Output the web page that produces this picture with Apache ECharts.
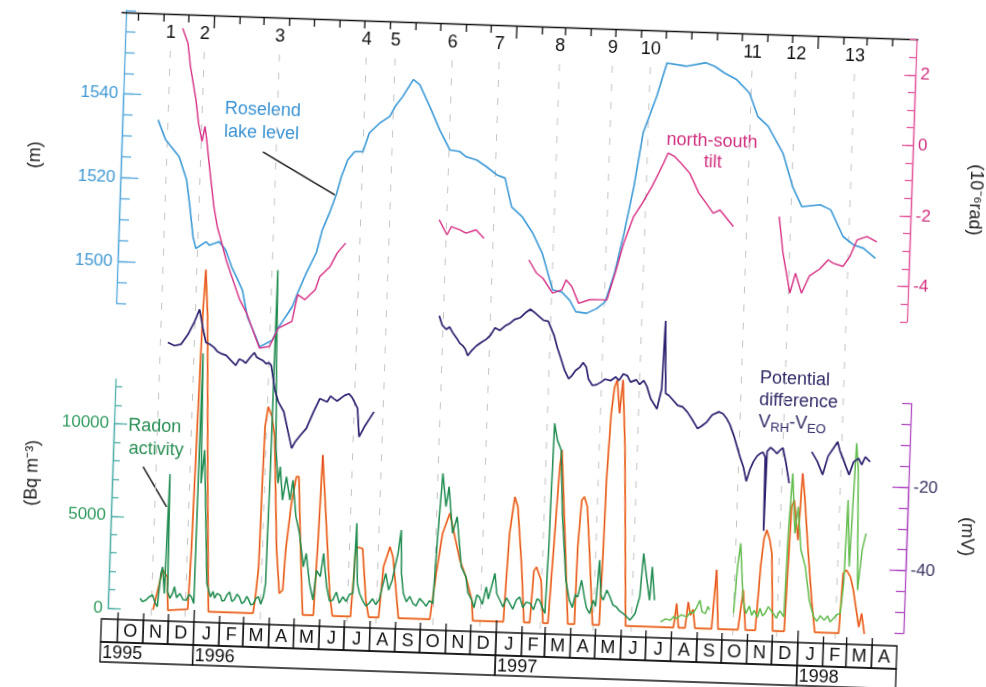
<!DOCTYPE html>
<html>
<head>
<meta charset="utf-8">
<title>Roselend lake level, tilt, potential difference and radon activity</title>
<script src="https://cdn.jsdelivr.net/npm/echarts@6/dist/echarts.min.js"></script>
<style>
html, body { margin: 0; padding: 0; background: #fff; overflow: hidden; }
/* the printed figure is slightly turned clockwise */
#page { width: 986px; height: 687px; transform: rotate(1.95deg); transform-origin: 493px 343.5px; }
#chart { width: 986px; height: 687px; }
</style>
</head>
<body>
<div id="page"><div id="chart"></div></div>
<script>
var FONT = '"Liberation Sans", Arial, Helvetica, sans-serif';
var X_MIN = '1995-09-11', X_MAX = '1998-05-01';

// Roselend lake level (m)
var lakeLevel = [
	['1995-10-29',1534.1],['1995-11-08',1529.4],['1995-11-25',1525.5],['1995-12-05',1520.0],['1995-12-10',1513.6],
	['1995-12-15',1506.5],['1995-12-19',1503.7],['1995-12-31',1505.4],['1996-01-04',1504.6],['1996-01-16',1505.5],
	['1996-01-24',1503.6],['1996-02-01',1499.6],['1996-02-07',1497.3],['1996-02-15',1494.1],['1996-02-22',1487.8],
	['1996-03-04',1483.1],['1996-03-09',1480.7],['1996-03-24',1482.4],['1996-03-31',1485.5],['1996-04-16',1490.6],
	['1996-04-22',1494.0],['1996-05-01',1498.5],['1996-05-13',1503.8],['1996-05-19',1509.1],['1996-05-27',1513.2],
	['1996-06-04',1518.0],['1996-06-09',1522.1],['1996-06-16',1526.1],['1996-06-24',1528.1],['1996-07-04',1528.2],
	['1996-07-11',1532.7],['1996-07-23',1535.1],['1996-08-04',1536.8],['1996-08-10',1539.2],['1996-08-19',1541.7],
	['1996-08-31',1545.8],['1996-09-08',1544.6],['1996-09-21',1539.5],['1996-10-04',1534.0],['1996-10-17',1529.3],
	['1996-10-29',1529.0],['1996-11-06',1527.8],['1996-11-19',1527.1],['1996-12-01',1525.6],['1996-12-14',1523.7],
	['1996-12-24',1523.0],['1997-01-02',1516.2],['1997-01-15',1514.0],['1997-01-29',1510.0],['1997-02-10',1505.4],
	['1997-02-24',1496.7],['1997-03-07',1496.3],['1997-03-17',1494.4],['1997-03-25',1491.7],['1997-04-07',1491.4],
	['1997-04-19',1492.6],['1997-04-29',1494.3],['1997-05-09',1501.1],['1997-05-19',1510.8],['1997-05-29',1522.0],
	['1997-06-07',1534.9],['1997-06-22',1543.8],['1997-07-03',1551.8],['1997-07-27',1551.2],['1997-08-19',1552.2],
	['1997-08-30',1551.4],['1997-09-11',1549.9],['1997-09-26',1548.4],['1997-10-12',1545.3],['1997-10-23',1539.8],
	['1997-11-05',1537.5],['1997-11-24',1531.2],['1997-12-07',1523.3],['1997-12-19',1518.6],['1998-01-10',1519.2],
	['1998-01-23',1518.1],['1998-02-08',1511.8],['1998-02-21',1509.9],['1998-03-05',1509.2],['1998-03-20',1506.9]
];

// north-south tilt (10^-6 rad), four records
var tiltA = [
	['1995-11-24',2.62],['1995-12-01',2.20],['1995-12-05',1.54],['1995-12-13',0.60],['1995-12-17',-0.05],
	['1995-12-22',-0.57],['1995-12-25',-0.14],['1995-12-27',-0.42],['1996-01-01',-1.27],['1996-01-08',-2.40],
	['1996-01-13',-2.97],['1996-01-18',-3.34],['1996-01-25',-3.90],['1996-02-03',-4.46],['1996-02-12',-5.01],
	['1996-02-21',-5.39],['1996-03-09',-6.37],['1996-03-21',-6.31],['1996-03-31',-5.78],['1996-04-16',-5.58],
	['1996-04-22',-4.82],['1996-05-01',-4.95],['1996-05-13',-4.66],['1996-05-18',-4.28],['1996-05-30',-3.99],
	['1996-06-07',-3.60],['1996-06-17',-3.31]
];
var tiltB = [
	['1996-10-07',-2.56],['1996-10-17',-2.98],['1996-10-22',-2.74],['1996-11-01',-2.82],['1996-11-09',-2.91],
	['1996-11-21',-2.81],['1996-12-01',-3.04]
];
var tiltC = [
	['1997-01-25',-3.61],['1997-02-04',-3.98],['1997-02-12',-4.12],['1997-02-24',-4.53],['1997-03-07',-4.43],
	['1997-03-12',-4.14],['1997-03-19',-4.32],['1997-03-28',-4.79],['1997-04-10',-4.68],['1997-04-22',-4.67],
	['1997-05-01',-4.67],['1997-05-10',-3.90],['1997-05-19',-3.05],['1997-05-30',-2.28],['1997-06-09',-1.89],
	['1997-06-20',-1.41],['1997-07-03',-0.74],['1997-07-08',-0.45],['1997-07-16',-0.54],['1997-07-24',-0.72],
	['1997-08-04',-1.00],['1997-08-16',-1.56],['1997-08-25',-1.83],['1997-09-03',-2.11],['1997-09-11',-2.01],
	['1997-09-28',-2.47]
];
var tiltD = [
	['1997-11-22',-2.14],['1997-11-28',-3.17],['1997-12-08',-4.30],['1997-12-14',-3.73],['1997-12-22',-4.29],
	['1997-12-31',-3.79],['1998-01-12',-3.59],['1998-01-22',-3.32],['1998-01-28',-3.41],['1998-02-09',-3.49],
	['1998-02-17',-3.21],['1998-02-25',-2.73],['1998-03-09',-2.62],['1998-03-21',-2.76]
];

// potential difference V_RH - V_EO (mV), three records
var potA = [
	['1995-11-19',8.6],['1995-11-27',7.9],['1995-12-05',8.3],['1995-12-13',10.7],['1995-12-20',13.6],
	['1995-12-26',16.8],['1995-12-31',12.1],['1996-01-04',8.9],['1996-01-09',8.5],['1996-01-14',7.8],
	['1996-01-18',6.9],['1996-01-24',6.3],['1996-01-29',6.0],['1996-02-04',4.8],['1996-02-10',3.7],
	['1996-02-14',5.2],['1996-02-18',4.9],['1996-02-22',4.3],['1996-02-27',5.7],['1996-03-03',6.9],
	['1996-03-06',5.8],['1996-03-10',5.4],['1996-03-14',5.0],['1996-03-18',4.3],['1996-03-21',4.6],
	['1996-03-24',4.0],['1996-03-29',-1.6],['1996-04-03',-4.7],['1996-04-10',-7.0],['1996-04-17',-12.6],
	['1996-04-21',-15.7],['1996-04-25',-14.1],['1996-05-01',-12.5],['1996-05-08',-10.8],['1996-05-16',-6.8],
	['1996-05-23',-3.6],['1996-06-01',-4.3],['1996-06-05',-2.9],['1996-06-09',-3.5],['1996-06-13',-4.0],
	['1996-06-17',-3.4],['1996-06-22',-2.6],['1996-06-27',-2.2],['1996-07-01',-3.0],['1996-07-04',-4.1],
	['1996-07-08',-5.6],['1996-07-11',-12.4],['1996-07-17',-10.0],['1996-07-23',-8.0],['1996-07-28',-6.3]
];
var potB = [
	['1996-10-11',17.2],['1996-10-15',15.0],['1996-10-20',14.0],['1996-10-24',14.6],['1996-10-28',13.3],
	['1996-11-03',11.7],['1996-11-06',10.8],['1996-11-10',10.2],['1996-11-13',9.4],['1996-11-16',7.9],
	['1996-11-20',9.0],['1996-11-26',10.3],['1996-12-02',11.2],['1996-12-08',12.0],['1996-12-13',13.0],
	['1996-12-18',14.8],['1996-12-24',14.2],['1996-12-30',15.3],['1997-01-05',16.0],['1997-01-10',16.9],
	['1997-01-17',17.4],['1997-01-23',18.6],['1997-01-29',19.5],['1997-02-03',18.8],['1997-02-08',18.0],
	['1997-02-14',17.0],['1997-02-20',16.8],['1997-02-28',13.3],['1997-03-04',10.6],['1997-03-09',7.9],
	['1997-03-14',5.1],['1997-03-19',3.2],['1997-03-23',4.0],['1997-03-27',5.2],['1997-04-01',6.0],
	['1997-04-05',7.2],['1997-04-09',6.1],['1997-04-12',3.3],['1997-04-17',1.8],['1997-04-22',2.0],
	['1997-04-27',2.6],['1997-05-02',3.4],['1997-05-09',3.1],['1997-05-15',4.0],['1997-05-19',3.2],
	['1997-05-24',4.8],['1997-05-29',4.4],['1997-06-02',2.9],['1997-06-09',3.5],['1997-06-13',2.4],
	['1997-06-18',3.4],['1997-06-22',2.0],['1997-06-27',-0.9],['1997-07-05',-3.3],['1997-07-10',1.5],
	['1997-07-12',17.8],['1997-07-15',0.5],['1997-07-19',0.0],['1997-07-30',-2.3],['1997-08-05',-2.6],
	['1997-08-11',-3.8],['1997-08-17',-5.5],['1997-08-24',-7.7],['1997-08-29',-7.0],['1997-09-04',-6.0],
	['1997-09-10',-4.3],['1997-09-18',-3.5],['1997-09-23',-3.9],['1997-09-28',-5.1],['1997-10-02',-6.5],
	['1997-10-07',-9.0],['1997-10-12',-12.0],['1997-10-16',-14.4],['1997-10-20',-16.5],['1997-10-24',-19.9],
	['1997-10-28',-17.0],['1997-11-01',-15.1],['1997-11-05',-13.8],['1997-11-09',-13.1],['1997-11-12',-12.8],
	['1997-11-15',-14.0],['1997-11-16',-31.6],['1997-11-17',-12.6],['1997-11-21',-11.6],['1997-11-25',-12.2],
	['1997-11-29',-13.0],['1997-12-03',-12.1],['1997-12-06',-11.6],['1997-12-10',-14.9],['1997-12-15',-20.0]
];
var potC = [
	['1998-01-10',-12.3],['1998-01-17',-14.5],['1998-01-24',-17.7],['1998-01-30',-13.2],['1998-02-05',-11.3],
	['1998-02-10',-9.7],['1998-02-13',-11.8],['1998-02-17',-13.6],['1998-02-21',-15.6],['1998-02-25',-17.5],
	['1998-03-02',-14.4],['1998-03-08',-13.5],['1998-03-12',-15.0],['1998-03-16',-13.1],['1998-03-22',-14.2]
];

// radon activity (Bq m^-3): first probe, then the later (light green) records
var radonA = [
	['1995-10-27',590],['1995-10-30',420],['1995-11-03',510],['1995-11-07',700],['1995-11-11',795],
	['1995-11-14',400],['1995-11-17',170],['1995-11-20',1980],['1995-11-22',2340],['1995-11-25',900],
	['1995-11-27',7370],['1995-11-29',1000],['1995-12-02',650],['1995-12-05',920],['1995-12-07',1280],
	['1995-12-10',700],['1995-12-14',930],['1995-12-18',600],['1995-12-22',580],['1995-12-25',900],
	['1995-12-28',770],['1995-12-31',415],['1996-01-01',13960],['1996-01-04',6925],['1996-01-07',8730],
	['1996-01-13',3330],['1996-01-15',1530],['1996-01-20',805],['1996-01-23',1100],['1996-01-25',740],
	['1996-01-28',1000],['1996-02-01',900],['1996-02-03',600],['1996-02-06',650],['1996-02-09',950],
	['1996-02-12',1100],['1996-02-15',600],['1996-02-18',700],['1996-02-21',1000],['1996-02-24',850],
	['1996-02-27',500],['1996-03-01',600],['1996-03-04',900],['1996-03-06',750],['1996-03-09',450],
	['1996-03-12',500],['1996-03-15',800],['1996-03-18',900],['1996-03-21',500],['1996-03-24',900],
	['1996-03-26',1640],['1996-03-27',7000],['1996-03-28',18600],['1996-03-30',14000],['1996-04-02',9000],
	['1996-04-06',7070],['1996-04-08',7970],['1996-04-12',6170],['1996-04-16',7440],['1996-04-21',6180],
	['1996-04-24',7270],['1996-04-29',5290],['1996-05-04',4400],['1996-05-10',2600],['1996-05-13',3330],
	['1996-05-18',1730],['1996-05-23',820],['1996-05-26',2430],['1996-05-31',2110],['1996-06-03',3360],
	['1996-06-08',1560],['1996-06-12',800],['1996-06-16',855],['1996-06-20',1300],['1996-06-24',700],
	['1996-06-28',1050],['1996-07-02',800],['1996-07-06',1200],['1996-07-10',1250],['1996-07-12',5050],
	['1996-07-15',1800],['1996-07-18',1270],['1996-07-22',900],['1996-07-26',600],['1996-07-30',740],
	['1996-08-03',1000],['1996-08-07',700],['1996-08-11',940],['1996-08-14',1600],['1996-08-18',2400],
	['1996-08-22',1500],['1996-08-26',2045],['1996-08-29',2800],['1996-09-01',3500],['1996-09-04',4770],
	['1996-09-06',2400],['1996-09-09',1350],['1996-09-13',900],['1996-09-17',1200],['1996-09-21',820],
	['1996-09-25',700],['1996-09-29',1100],['1996-10-03',925],['1996-10-07',700],['1996-10-11',1000],
	['1996-10-15',860],['1996-10-18',4290],['1996-10-22',7910],['1996-10-27',6110],['1996-10-30',7200],
	['1996-11-05',4690],['1996-11-10',5590],['1996-11-17',2890],['1996-11-23',2360],['1996-11-26',1500],
	['1996-12-01',1110],['1996-12-04',700],['1996-12-07',1400],['1996-12-10',1300],['1996-12-14',900],
	['1996-12-18',1860],['1996-12-21',1200],['1996-12-25',2000],['1996-12-28',2600],['1996-12-31',1500],
	['1997-01-04',1160],['1997-01-08',800],['1997-01-12',1300],['1997-01-16',1000],['1997-01-20',700],
	['1997-01-24',1200],['1997-01-28',1370],['1997-02-01',800],['1997-02-05',1100],['1997-02-10',1040],
	['1997-02-14',700],['1997-02-18',1300],['1997-02-21',1230],['1997-02-25',800],['1997-02-28',525],
	['1997-03-02',4130],['1997-03-03',7750],['1997-03-04',10820],['1997-03-08',9920],['1997-03-13',9390],
	['1997-03-17',5970],['1997-03-24',2350],['1997-03-29',1290],['1997-04-02',900],['1997-04-05',1600],
	['1997-04-08',1480],['1997-04-12',2390],['1997-04-16',1490],['1997-04-19',900],['1997-04-23',605],
	['1997-04-27',1330],['1997-04-30',1000],['1997-05-03',3510],['1997-05-06',1600],['1997-05-09',1350],
	['1997-05-13',1900],['1997-05-17',1540],['1997-05-21',1100],['1997-05-25',1010],['1997-05-29',800],
	['1997-06-03',655],['1997-06-07',500],['1997-06-11',320],['1997-06-14',500],['1997-06-17',690],
	['1997-06-22',1600],['1997-06-25',3950],['1997-06-30',2510],['1997-07-04',1430],['1997-07-06',3240],
	['1997-07-10',1440]
];
var radonB = [
	['1997-07-18',275],['1997-07-24',450],['1997-07-30',385],['1997-08-03',600],['1997-08-06',490],
	['1997-08-12',700],['1997-08-19',600],['1997-08-23',900],['1997-08-26',795],['1997-08-30',1100],
	['1997-09-03',1525],['1997-09-06',900],['1997-09-10',815],['1997-09-13',1200],['1997-09-15',1010]
];
var radonC = [
	['1997-10-14',900],['1997-10-17',3400],['1997-10-20',4680],['1997-10-25',1610],['1997-10-29',890],
	['1997-11-02',1300],['1997-11-05',800],['1997-11-08',1080],['1997-11-12',700],['1997-11-15',1200],
	['1997-11-18',800],['1997-11-21',925],['1997-11-25',1300],['1997-12-01',945],['1997-12-05',700],
	['1997-12-09',1100],['1997-12-14',780],['1997-12-16',5300],['1997-12-19',8550],['1997-12-24',5310],
	['1997-12-27',6760],['1998-01-01',4420],['1998-01-07',3520],['1998-01-13',1730],['1998-01-19',835],
	['1998-01-23',600],['1998-01-27',900],['1998-02-01',670],['1998-02-05',900],['1998-02-08',600],
	['1998-02-12',785],['1998-02-16',1000],['1998-02-20',1065],['1998-02-23',2690],['1998-02-25',7210],
	['1998-03-01',3610],['1998-03-05',10300],['1998-03-08',8850],['1998-03-12',2360],['1998-03-16',4530],
	['1998-03-20',5440]
];

// orange curve drawn on the radon scale
var orangeCurve = [
	['1995-11-12',0],['1995-11-19',1500],['1995-11-22',2200],['1995-11-25',2000],['1995-11-28',1800],
	['1995-11-30',0],['1995-12-24',100],['1995-12-26',3300],['1995-12-28',10000],['1995-12-30',16000],
	['1996-01-01',18480],['1996-01-05',15950],['1996-01-12',6940],['1996-01-18',0],['1996-03-12',0],
	['1996-03-14',710],['1996-03-17',2520],['1996-03-18',7030],['1996-03-19',10100],['1996-03-22',11190],
	['1996-03-27',10660],['1996-03-31',9580],['1996-04-07',3460],['1996-04-12',1120],['1996-04-16',1300],
	['1996-04-18',3470],['1996-04-23',6010],['1996-04-28',7460],['1996-05-01',7460],['1996-05-06',3500],
	['1996-05-11',0],['1996-05-24',0],['1996-05-27',4440],['1996-05-29',8680],['1996-06-06',4450],
	['1996-06-12',1210],['1996-06-16',0],['1996-07-08',0],['1996-07-12',3780],['1996-07-20',3700],
	['1996-07-26',910],['1996-07-30',0],['1996-08-11',0],['1996-08-15',2750],['1996-08-22',3840],
	['1996-08-26',3300],['1996-08-30',1870],['1996-09-04',0],['1996-10-12',0],['1996-10-18',2490],
	['1996-10-24',4660],['1996-11-01',5760],['1996-11-15',3250],['1996-11-23',2360],['1996-12-01',1110],
	['1996-12-03',0],['1997-01-09',0],['1997-01-13',4790],['1997-01-18',6770],['1997-01-22',6240],
	['1997-01-29',3000],['1997-02-03',0],['1997-02-10',0],['1997-02-13',2800],['1997-02-16',3020],
	['1997-02-22',2320],['1997-02-26',0],['1997-03-04',0],['1997-03-08',4140],['1997-03-12',8480],
	['1997-03-14',9390],['1997-03-22',4170],['1997-03-28',0],['1997-04-05',0],['1997-04-06',4190],
	['1997-04-09',6720],['1997-04-12',6900],['1997-04-16',6370],['1997-04-20',4210],['1997-04-27',0],
	['1997-05-05',0],['1997-05-07',4240],['1997-05-08',7860],['1997-05-11',11460],['1997-05-14',12900],
	['1997-05-17',13280],['1997-05-21',11480],['1997-05-24',13290],['1997-05-29',9690],['1997-06-06',0],
	['1997-08-03',0],['1997-08-06',1300],['1997-08-09',0],['1997-08-17',0],['1997-08-20',1400],
	['1997-08-23',700],['1997-08-26',1000],['1997-08-29',0],['1997-09-18',0],['1997-09-22',3200],
	['1997-09-26',0],['1997-10-20',0],['1997-10-25',2150],['1997-10-29',0],['1997-11-10',0],
	['1997-11-14',3500],['1997-11-17',5000],['1997-11-20',5440],['1997-11-24',4900],['1997-11-27',4180],
	['1997-12-01',0],['1997-12-15',0],['1997-12-19',6750],['1997-12-22',7110],['1997-12-28',4960],
	['1997-12-31',8570],['1998-01-03',7490],['1998-01-10',4250],['1998-01-16',1730],['1998-01-21',0],
	['1998-02-19',0],['1998-02-22',3240],['1998-02-26',3420],['1998-03-03',3060],['1998-03-07',2350],
	['1998-03-15',370],['1998-03-18',1100],['1998-03-22',0]
];

// numbered events along the top
var events = [
	['1995-11-10','1'],['1995-12-21','2'],['1996-03-21','3'],['1996-07-04','4'],['1996-08-08','5'],
	['1996-10-16','6'],['1996-12-12','7'],['1997-02-23','8'],['1997-04-28','9'],['1997-06-13','10'],
	['1997-10-14','11'],['1997-12-06','12'],['1998-02-15','13']
];

// month / year table under the plot (Oct 1995 .. Apr 1998, first cell is the end of Sept.)
var monthLetters = ['O','N','D','J','F','M','A','M','J','J','A','S','O','N','D',
	'J','F','M','A','M','J','J','A','S','O','N','D','J','F','M','A'];
var yearLabels = ['1995','1996','1997','1998'];

// ---------------------------------------------------------------------------
var parseT = (echarts.time && echarts.time.parse) ? echarts.time.parse : function(s){ return new Date(s).getTime(); };
var H = 687, LEFT = 111, RIGHT = 79, PLOT_TOP = 25, PLOT_BOTTOM = 632;
var ROW1 = 23, ROW2 = 20;

function $each(obj, fn){ for (var k in obj) if (obj.hasOwnProperty(k)) fn(k, obj[k]); }

// visible y scales: value range and the pixel rows they cover
var AX = {
	lake:  {min: 1490, max: 1560,  top: 23,    bottom: 316,   major: [1500, 1540, 20],   minor: 5,    side: 'left',  offset: -4, line: '#55a9da', text: '#3f98d3', majorLen: 18, minorLen: 10},
	tilt:  {min: -5,   max: 3,     top: 25.5,  bottom: 307.8, major: [-4, 2, 2],         minor: 0.5,  side: 'right', offset: -1, line: '#e45c9f', text: '#d1307f', majorLen: 11, minorLen: 7},
	radon: {min: 0,    max: 12400, top: 392,   bottom: 621.2, major: [0, 10000, 5000],   minor: 1000, side: 'left',  offset: -6, line: '#4fb0a8', text: '#2f9a5e', majorLen: 13, minorLen: 7},
	mv:    {min: -55,  max: 0,     top: 389.5, bottom: 619.3, major: [-40, -20, 20],     minor: 5,    side: 'right', offset: 6,  line: '#b04cc0', text: '#3a3462', majorLen: 16, minorLen: 9}
};
function py(a, v){ return a.bottom - (v - a.min) * (a.bottom - a.top) / (a.max - a.min); }

var grids = [{left: LEFT, right: RIGHT, top: PLOT_TOP, bottom: H - PLOT_BOTTOM}];
var xAxes = [{
	type: 'time', gridIndex: 0, min: parseT(X_MIN), max: parseT(X_MAX), position: 'top',
	axisLine: {show: true, onZero: false, lineStyle: {color: '#111', width: 1.3}},
	axisTick: {show: false}, axisLabel: {show: false}, splitLine: {show: false}
}];
var yAxes = [];
var plotAxis = {};

// hidden axes on the plotting grid keep the same px-per-unit as the drawn ones
$each(AX, function(key, a){
	var k = (a.max - a.min) / (a.bottom - a.top);
	plotAxis[key] = yAxes.length;
	yAxes.push({type: 'value', gridIndex: 0, show: false,
		min: a.min - (PLOT_BOTTOM - a.bottom) * k, max: a.max + (a.top - PLOT_TOP) * k});
});

function addAxis(a, lo, hi, step, tickLen, withLabel){
	var gi = grids.length, ticks = [];
	for (var v = lo; v <= hi + 1e-9; v += step) ticks.push(+v.toFixed(3));
	grids.push({left: LEFT, right: RIGHT, top: py(a, hi), bottom: H - py(a, lo)});
	xAxes.push({type: 'time', gridIndex: gi, show: false, min: parseT(X_MIN), max: parseT(X_MAX),
		axisLine: {onZero: false}});
	yAxes.push({
		type: 'value', gridIndex: gi, position: a.side, offset: a.offset,
		min: lo, max: hi, interval: step,
		axisLine: {show: true, onZero: false, lineStyle: {color: a.line, width: 1.3}},
		axisTick: {show: true, inside: true, length: tickLen, customValues: ticks, lineStyle: {color: a.line, width: 1.3}},
		axisLabel: {show: withLabel, color: a.text, fontSize: 17, fontFamily: FONT, margin: 5,
			customValues: withLabel ? ticks : undefined,
			formatter: function(v){ return String(v); }},
		splitLine: {show: false}
	});
}
$each(AX, function(key, a){
	addAxis(a, a.min, a.max, a.minor, a.minorLen, false);
	addAxis(a, a.major[0], a.major[1], a.major[2], a.majorLen, true);
});

function joinSegments(list){
	var out = [];
	list.forEach(function(s, i){
		if (i) out.push([s[0][0], '-']);
		out = out.concat(s);
	});
	return out;
}

function lineSeries(name, data, axisKey, color, width, z){
	return {
		type: 'line', name: name, xAxisIndex: 0, yAxisIndex: plotAxis[axisKey],
		data: data, showSymbol: false, symbol: 'none', connectNulls: false,
		lineStyle: {color: color, width: width}, z: z, silent: true
	};
}

// month boundaries for the table and the top ticks
var monthStarts = [];
(function(){
	var y = 1995, m = 10;
	for (var i = 0; i < monthLetters.length; i++){
		monthStarts.push(y + '-' + (m < 10 ? '0' + m : m) + '-01');
		m++; if (m > 12){ m = 1; y++; }
	}
})();
var monthCells = [[parseT(X_MIN), parseT(monthStarts[0]), 0, '']];
monthStarts.forEach(function(s, i){
	var e = i + 1 < monthStarts.length ? monthStarts[i + 1] : X_MAX;
	monthCells.push([parseT(s), parseT(e), 0, monthLetters[i]]);
});
var yearCells = yearLabels.map(function(yl, i){
	var s = i === 0 ? X_MIN : yl + '-01-01';
	var e = i + 1 < yearLabels.length ? yearLabels[i + 1] + '-01-01' : X_MAX;
	return [parseT(s), parseT(e), 0, yl];
});
var topTicks = monthStarts.map(function(s){ return [parseT(s), 0, s.slice(5, 7) === '01' ? 1 : 0]; });
var eventData = events.map(function(e){ return [parseT(e[0]), 0, e[1]]; });

var txt = function(x, y, text, fill, align, rot){
	return {type: 'text', x: x, y: y, rotation: rot || 0, silent: true,
		style: {text: text, fill: fill, font: '18px ' + FONT, align: align || 'center', verticalAlign: 'middle'}};
};

var option = {
	animation: false,
	backgroundColor: '#fff',
	grid: grids,
	xAxis: xAxes,
	yAxis: yAxes,
	series: [
		{
			type: 'custom', name: 'events', xAxisIndex: 0, yAxisIndex: plotAxis.radon, z: 1, silent: true,
			data: eventData, encode: {x: 0, y: 1},
			renderItem: function(params, api){
				var cs = params.coordSys, x = api.coord([api.value(0), 0])[0];
				return {type: 'group', children: [
					{type: 'line', shape: {x1: x, y1: cs.y + 37, x2: x, y2: cs.y + cs.height},
						style: {stroke: '#c4c4c4', lineWidth: 1, lineDash: [7, 11]}},
					{type: 'text', style: {x: x, y: cs.y + 19, text: eventData[params.dataIndex][2], fill: '#111',
						font: '18px ' + FONT, align: 'center', verticalAlign: 'middle'}}
				]};
			}
		},
		{
			type: 'custom', name: 'top ticks', xAxisIndex: 0, yAxisIndex: plotAxis.radon, z: 6, silent: true,
			data: topTicks, encode: {x: 0, y: 1},
			renderItem: function(params, api){
				var cs = params.coordSys, x = api.coord([api.value(0), 0])[0];
				var len = topTicks[params.dataIndex][2] ? 13 : 8;
				return {type: 'line', shape: {x1: x, y1: cs.y, x2: x, y2: cs.y + len}, style: {stroke: '#111', lineWidth: 1.3}};
			}
		},
		{
			type: 'custom', name: 'months', xAxisIndex: 0, yAxisIndex: plotAxis.radon, z: 6, silent: true,
			data: monthCells, encode: {x: [0, 1], y: 2},
			renderItem: function(params, api){
				var cs = params.coordSys, top = cs.y + cs.height;
				var c = monthCells[params.dataIndex];
				var x0 = api.coord([c[0], 0])[0], x1 = api.coord([c[1], 0])[0];
				var kids = [
					{type: 'rect', shape: {x: x0, y: top, width: x1 - x0, height: ROW1}, style: {fill: null, stroke: '#111', lineWidth: 1.3}},
					{type: 'text', style: {x: (x0 + x1) / 2, y: top + ROW1 / 2 + 1, text: c[3], fill: '#111',
						font: '18px ' + FONT, align: 'center', verticalAlign: 'middle'}}
				];
				if (params.dataIndex > 0){
					var jan = c[3] === 'J' && monthLetters[params.dataIndex - 2] === 'D';
					kids.push({type: 'line', shape: {x1: x0, y1: top - (jan ? 12 : 7), x2: x0, y2: top}, style: {stroke: '#111', lineWidth: 1.3}});
				}
				return {type: 'group', children: kids};
			}
		},
		{
			type: 'custom', name: 'years', xAxisIndex: 0, yAxisIndex: plotAxis.radon, z: 6, silent: true,
			data: yearCells, encode: {x: [0, 1], y: 2},
			renderItem: function(params, api){
				var cs = params.coordSys, top = cs.y + cs.height + ROW1;
				var c = yearCells[params.dataIndex];
				var x0 = api.coord([c[0], 0])[0], x1 = api.coord([c[1], 0])[0];
				return {type: 'group', children: [
					{type: 'rect', shape: {x: x0, y: top, width: x1 - x0, height: ROW2}, style: {fill: null, stroke: '#111', lineWidth: 1.3}},
					{type: 'text', style: {x: x0 + 2, y: top + ROW2 / 2 + 1, text: c[3], fill: '#111',
						font: '18px ' + FONT, align: 'left', verticalAlign: 'middle'}}
				]};
			}
		},
		lineSeries('orange', orangeCurve, 'radon', '#f6a83c', 1.9, 2),
		lineSeries('red', orangeCurve, 'radon', '#e3372b', 0.9, 2),
		lineSeries('Radon activity', radonA, 'radon', '#1f8b4f', 1.5, 3),
		lineSeries('Radon activity (late)', joinSegments([radonB, radonC]), 'radon', '#63bd4f', 1.5, 3),
		lineSeries('Potential difference', joinSegments([potA, potB, potC]), 'mv', '#2d2270', 1.7, 4),
		lineSeries('Roselend lake level', lakeLevel, 'lake', '#3c9ad6', 1.6, 5),
		lineSeries('north-south tilt', joinSegments([tiltA, tiltB, tiltC, tiltD]), 'tilt', '#d62f84', 1.4, 5)
	],
	graphic: [
		txt(28.6, 170.6, '(m)', '#222', 'center', Math.PI / 2),
		txt(37.4, 488.6, '(Bq m\u207B\u00B3)', '#222', 'center', Math.PI / 2),
		txt(970, 183.6, '(10\u207B\u2076rad)', '#222', 'center', -Math.PI / 2),
		txt(973.3, 520.6, '(mV)', '#222', 'center', -Math.PI / 2),
		txt(217, 117.8, 'Roselend', '#3b93d3', 'left'),
		txt(217, 140.8, 'lake level', '#3b93d3', 'left'),
		{type: 'line', silent: true, shape: {x1: 256.5, y1: 159.8, x2: 329.9, y2: 200.4}, style: {stroke: '#111', lineWidth: 1.4}},
		txt(705, 134.3, 'north-south', '#d0307f'),
		txt(706.6, 155.5, 'tilt', '#d0307f'),
		txt(157.8, 438.2, 'Radon', '#2a8f56'),
		txt(160, 460.7, 'activity', '#2a8f56'),
		{type: 'line', silent: true, shape: {x1: 147.5, y1: 478.6, x2: 172.3, y2: 517.8}, style: {stroke: '#111', lineWidth: 1.4}},
		txt(761, 368.7, 'Potential', '#2f2a66', 'left'),
		txt(761, 390.6, 'difference', '#2f2a66', 'left'),
		{type: 'text', x: 761, y: 413.1, silent: true, style: {
			text: 'V{s|RH}-V{s|EO}', fill: '#2f2a66', font: '18px ' + FONT, align: 'left', verticalAlign: 'middle',
			rich: {s: {fontSize: 13, fontFamily: FONT, fill: '#2f2a66', padding: [10, 0, 0, 0]}}
		}}
	]
};

var chart = echarts.init(document.getElementById('chart'));
chart.setOption(option);
</script>
</body>
</html>
